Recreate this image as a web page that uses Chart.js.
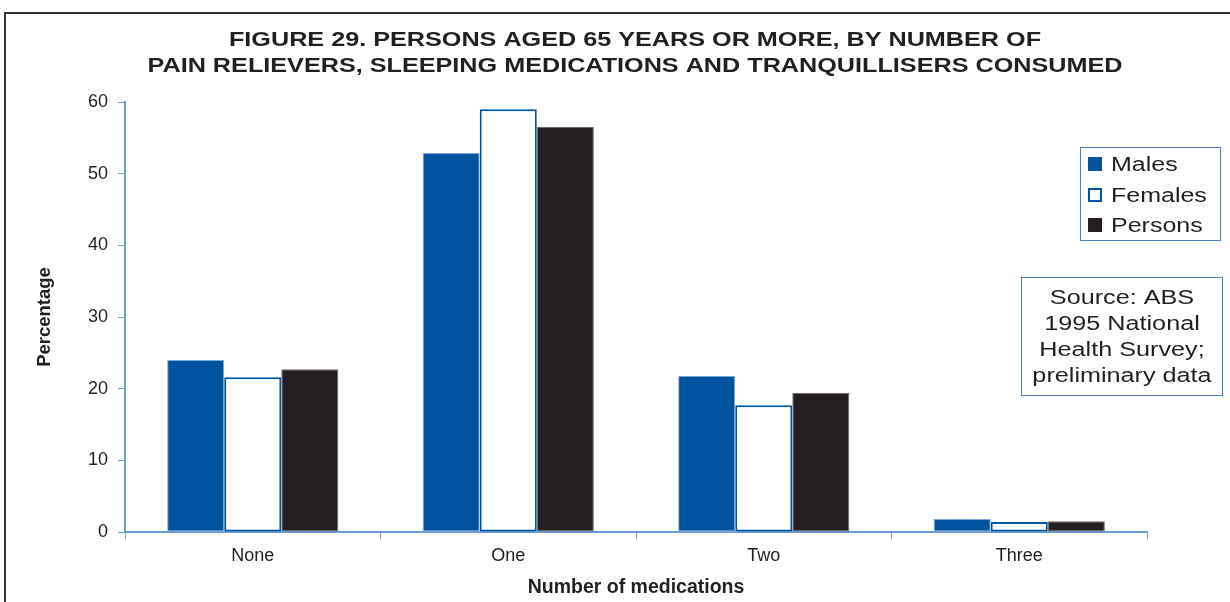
<!DOCTYPE html>
<html>
<head>
<meta charset="utf-8">
<script src="https://cdn.jsdelivr.net/npm/chart.js@4"></script>
<style>
  html, body { margin: 0; padding: 0; background: #fff; }
  #wrap { width: 1230px; height: 602px; position: relative; }
</style>
</head>
<body>
<div id="wrap"><canvas id="chart"></canvas></div>
<script>
// data
const categories = ["None", "One", "Two", "Three"];
const males   = [24.0, 52.9, 21.8, 1.8];
const females = [21.6, 59.0, 17.7, 1.4];
const persons = [22.7, 56.5, 19.4, 1.5];
const yTicks = [0, 10, 20, 30, 40, 50, 60];
const titleLines = [
  "FIGURE 29. PERSONS AGED 65 YEARS OR MORE, BY NUMBER OF",
  "PAIN RELIEVERS, SLEEPING MEDICATIONS AND TRANQUILLISERS CONSUMED"
];
const sourceLines = ["Source: ABS", "1995 National", "Health Survey;", "preliminary data"];

const BLUE = '#00539f';
const BLACK = '#231f20';
const AXIS = '#6d9fd6';
const FONT = "'Liberation Sans', Arial, sans-serif";

// the original lettering is wide for its height, so stretch it a bit
function wideText(c, text, x, y, sx) {
  c.save();
  c.translate(x, y);
  c.scale(sx, 1);
  c.fillText(text, 0, 0);
  c.restore();
}

// frame, title, legend and source note
const extras = {
  id: 'extras',
  beforeDraw(chart) {
    const c = chart.ctx;
    c.save();
    c.strokeStyle = '#333';
    c.lineWidth = 2;
    c.beginPath();
    c.moveTo(1230, 13);
    c.lineTo(5, 13);
    c.lineTo(5, 602);
    c.stroke();
    c.restore();
  },
  afterDraw(chart) {
    const c = chart.ctx;
    c.save();
    c.fillStyle = BLACK;
    c.textBaseline = 'middle';
    c.textAlign = 'center';
    // title
    c.font = 'bold 21px ' + FONT;
    titleLines.forEach((t, i) => wideText(c, t, 635, 40 + i * 26, 1.2));

    // legend box
    c.strokeStyle = '#4a7fc0';
    c.lineWidth = 1;
    c.strokeRect(1080.5, 147.5, 140, 93);
    c.font = '20px ' + FONT;
    const ys = [164, 195, 225];
    chart.data.datasets.forEach((ds, i) => {
      const y = ys[i];
      if (ds.label === 'Females') {
        c.fillStyle = '#fff';
        c.fillRect(1088, y - 7, 14, 14);
        c.strokeStyle = BLUE;
        c.lineWidth = 2;
        c.strokeRect(1089, y - 6, 12, 12);
      } else {
        c.fillStyle = ds.backgroundColor;
        c.fillRect(1088, y - 7, 14, 14);
      }
      c.fillStyle = BLACK;
      c.textAlign = 'left';
      wideText(c, ds.label, 1111, y + 1, 1.25);
    });

    // source box
    c.strokeStyle = '#4a7fc0';
    c.lineWidth = 1;
    c.strokeRect(1021.5, 277.5, 201, 118);
    c.textAlign = 'center';
    sourceLines.forEach((t, i) => wideText(c, t, 1122, 298 + i * 26.3, 1.26));
    c.restore();
  }
};

new Chart(document.getElementById('chart'), {
  type: 'bar',
  data: {
    labels: categories,
    datasets: [
      { label: 'Males', data: males, backgroundColor: BLUE, borderColor: '#7fa9d8', borderWidth: 1, borderSkipped: false },
      { label: 'Females', data: females, backgroundColor: '#ffffff', borderColor: BLUE, borderWidth: 2, borderSkipped: false },
      { label: 'Persons', data: persons, backgroundColor: BLACK, borderColor: '#6b6b6b', borderWidth: 1, borderSkipped: false }
    ]
  },
  options: {
    responsive: true,
    maintainAspectRatio: false,
    animation: false,
    layout: { padding: { top: 102, left: 20, right: 83, bottom: 0 } },
    plugins: {
      legend: { display: false },
      tooltip: { enabled: false },
      title: { display: false }
    },
    datasets: { bar: { categoryPercentage: 0.67, barPercentage: 1.0 } },
    scales: {
      x: {
        grid: { display: true, drawOnChartArea: false, color: AXIS, tickLength: 7, offset: true },
        border: { color: AXIS, width: 2 },
        ticks: { color: BLACK, font: { family: FONT, size: 18 }, padding: 6 },
        title: { display: true, text: 'Number of medications', color: BLACK,
                 font: { family: FONT, size: 19.5, weight: 'bold' }, padding: { top: 2, bottom: 3 } },
        afterFit(s) { s.height = 70; }
      },
      y: {
        min: 0, max: 60,
        afterBuildTicks(s) { s.ticks = yTicks.map(v => ({ value: v })); },
        grid: { display: true, drawOnChartArea: false, color: AXIS, tickLength: 7 },
        border: { color: AXIS, width: 2 },
        ticks: { color: BLACK, font: { family: FONT, size: 18 }, padding: 10 },
        title: { display: true, text: 'Percentage', color: BLACK,
                 font: { family: FONT, size: 18.5, weight: 'bold' }, padding: { top: 14, bottom: 0 } },
        afterFit(s) { s.width = 105; }
      }
    }
  },
  plugins: [extras]
});
</script>
</body>
</html>
